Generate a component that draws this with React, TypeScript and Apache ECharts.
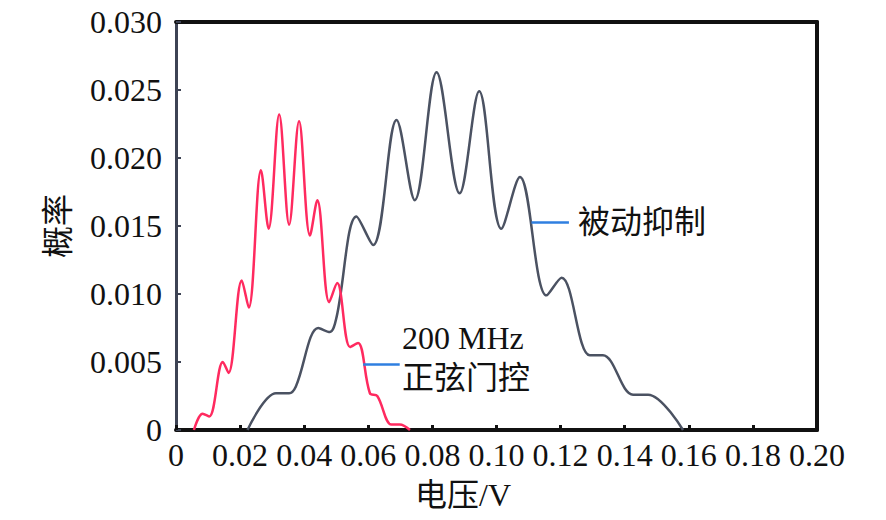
import { useEffect, useRef } from "react";
import * as echarts from "echarts";

// 200 MHz 正弦门控 (red), [电压/V, 概率]
const gatedPoints: [number, number][] = [
  [0.0056, 0], [0.0083, 0.0012], [0.0104, 0.001], [0.0146, 0.005], [0.0164, 0.0042],
  [0.0205, 0.011], [0.0227, 0.009], [0.0265, 0.0191], [0.0289, 0.0148], [0.0322, 0.0232],
  [0.0353, 0.0151], [0.0384, 0.0227], [0.0418, 0.0143], [0.0441, 0.0169], [0.0478, 0.0094],
  [0.0503, 0.0108], [0.0543, 0.0061], [0.0568, 0.0064], [0.0605, 0.0027], [0.0628, 0.0025],
  [0.0672, 0.0004], [0.0698, 0.0004], [0.073, 0],
];

// 被动抑制 (grey)
const passivePoints: [number, number][] = [
  [0.0223, 0], [0.0312, 0.0027], [0.0353, 0.0027], [0.0374, 0.0032], [0.0444, 0.0075],
  [0.048, 0.0072], [0.0501, 0.0083], [0.0563, 0.0157], [0.0615, 0.0136], [0.0688, 0.0228],
  [0.0745, 0.0169], [0.0813, 0.0263], [0.0885, 0.0174], [0.0946, 0.0249], [0.1015, 0.0148],
  [0.1073, 0.0186], [0.1156, 0.0099], [0.1203, 0.0112], [0.1291, 0.0055], [0.1332, 0.0055],
  [0.1426, 0.0026], [0.1473, 0.0026], [0.1582, 0],
];

// label leader lines (data coords)
const passiveLeader: [number, number][] = [[0.1109, 0.0153], [0.1226, 0.0153]];
const gatedLeader: [number, number][] = [[0.0584, 0.0048], [0.0698, 0.0048]];

const FONT = '"Liberation Serif", "Noto Sans CJK SC", serif';
const FS = 32;

export default function App() {
  const ref = useRef<HTMLDivElement>(null);

  useEffect(() => {
    const el = ref.current;
    if (!el) return;
    const chart = echarts.init(el, undefined, { renderer: "svg" });
    const leader = (pts: [number, number][]) => ({
      silent: true,
      symbol: ["none", "none"],
      label: { show: false },
      lineStyle: { color: "#2f7fe0", width: 2.5, type: "solid" },
      data: [[{ coord: pts[0] }, { coord: pts[1] }]],
    });
    const txt = { fontSize: FS, fontFamily: FONT, fill: "#111" };
    chart.setOption({
      animation: false,
      backgroundColor: "#fff",
      textStyle: { fontFamily: FONT },
      grid: { left: 176, right: 69, top: 22, bottom: 90 },
      xAxis: [
        {
          type: "value",
          min: 0,
          max: 0.2,
          interval: 0.02,
          axisLine: { show: true, lineStyle: { color: "#111", width: 4 } },
          axisTick: { show: true, inside: true, length: 5, lineStyle: { color: "#111", width: 3 } },
          splitLine: { show: false },
          axisLabel: {
            margin: 9,
            fontSize: FS,
            color: "#111",
            fontFamily: FONT,
            formatter: (v: number) => (v === 0 ? "0" : v.toFixed(2)),
          },
        },
        {
          type: "value",
          position: "top",
          min: 0,
          max: 0.2,
          axisLine: { show: true, onZero: false, lineStyle: { color: "#111", width: 4 } },
          axisTick: { show: false },
          axisLabel: { show: false },
          splitLine: { show: false },
        },
      ],
      yAxis: [
        {
          type: "value",
          min: 0,
          max: 0.03,
          interval: 0.005,
          name: "概率",
          nameLocation: "middle",
          nameRotate: 90,
          nameGap: 102,
          nameTextStyle: { fontSize: FS, color: "#111", fontFamily: FONT },
          axisLine: { show: true, lineStyle: { color: "#3d4354", width: 3 } },
          axisTick: { show: true, inside: true, length: 5, lineStyle: { color: "#3d4354", width: 2 } },
          splitLine: { show: false },
          axisLabel: {
            margin: 14,
            fontSize: FS,
            color: "#111",
            fontFamily: FONT,
            formatter: (v: number) => (v === 0 ? "0" : v.toFixed(3)),
          },
        },
        {
          type: "value",
          position: "right",
          min: 0,
          max: 0.03,
          axisLine: { show: true, onZero: false, lineStyle: { color: "#111", width: 4 } },
          axisTick: { show: false },
          axisLabel: { show: false },
          splitLine: { show: false },
        },
      ],
      series: [
        {
          name: "被动抑制",
          type: "line",
          data: passivePoints,
          smooth: 0.35,
          symbol: "none",
          lineStyle: { color: "#4b5262", width: 2.5 },
          markLine: leader(passiveLeader),
          z: 2,
        },
        {
          name: "200 MHz 正弦门控",
          type: "line",
          data: gatedPoints,
          smooth: 0.35,
          symbol: "none",
          lineStyle: { color: "#ff2a5f", width: 2.5 },
          markLine: leader(gatedLeader),
          z: 3,
        },
      ],
      graphic: [
        {
          type: "text",
          x: 578,
          y: 222,
          style: { ...txt, text: "被动抑制", verticalAlign: "middle" },
        },
        {
          type: "text",
          x: 402,
          y: 318,
          style: { ...txt, text: "200 MHz\n正弦门控", lineHeight: 40 },
        },
        {
          type: "text",
          x: 463,
          y: 495,
          style: { ...txt, text: "电压/V", align: "center", verticalAlign: "middle" },
        },
      ],
    });
    return () => chart.dispose();
  }, []);

  return <div ref={ref} style={{ position: "absolute", left: 0, top: 0, width: 886, height: 520 }} />;
}
